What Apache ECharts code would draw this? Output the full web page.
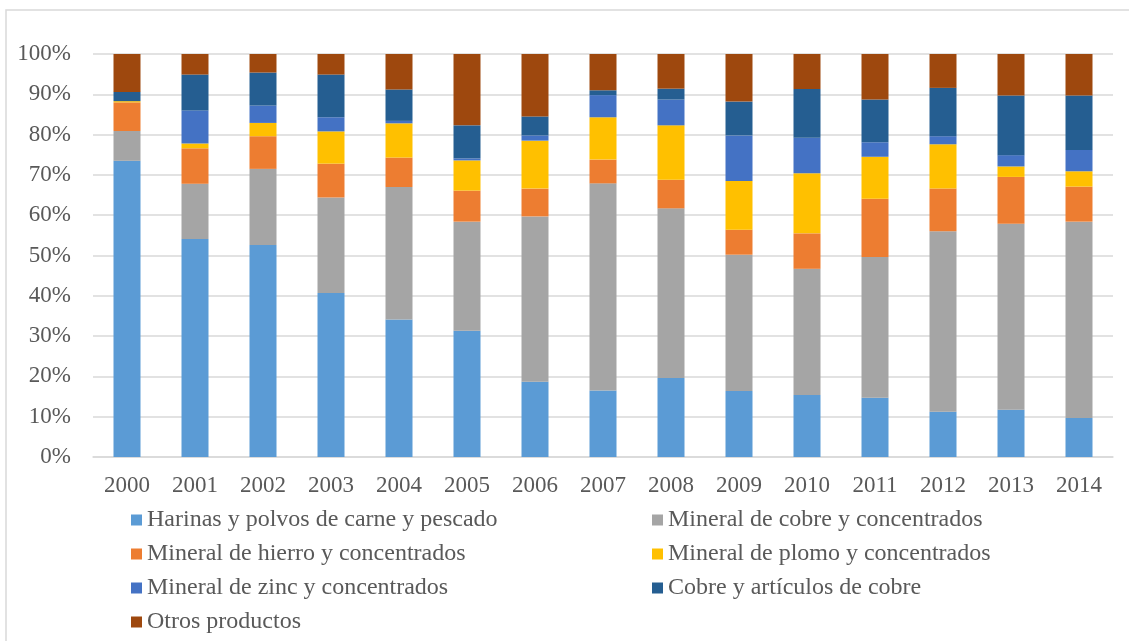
<!DOCTYPE html>
<html>
<head>
<meta charset="utf-8">
<script src="https://cdn.jsdelivr.net/npm/echarts@6/dist/echarts.min.js"></script>
<style>
html,body{margin:0;padding:0;background:#fff;}
#chart{width:1129px;height:641px;}
</style>
</head>
<body>
<div id="chart"></div>
<script>
const years = ['2000','2001','2002','2003','2004','2005','2006','2007','2008','2009','2010','2011','2012','2013','2014'];
const harinas = [73.5,54.1,52.6,40.7,34.1,31.3,18.7,16.5,19.6,16.4,15.4,14.7,11.2,11.7,9.7];
const cobreMineral = [7.4,13.7,18.9,23.7,32.9,27.1,41.0,51.4,42.1,33.8,31.3,34.9,44.8,46.2,48.7];
const hierro = [7.1,8.8,8.1,8.4,7.3,7.7,6.9,5.9,7.1,6.2,8.8,14.5,10.6,11.6,8.7];
const plomo = [0.3,1.2,3.3,8.0,8.5,7.5,11.9,10.5,13.5,12.1,14.9,10.4,11.0,2.6,3.8];
const zinc = [0.0,8.2,4.3,3.5,0.6,0.5,1.3,5.5,6.4,11.3,8.8,3.6,2.0,2.8,5.3];
const cobreArticulos = [2.3,8.9,8.2,10.6,7.8,8.2,4.7,1.2,2.7,8.4,12.1,10.6,12.0,14.8,13.5];
const otros = [9.4,5.1,4.6,5.1,8.8,17.7,15.5,9.0,8.6,11.8,8.7,11.3,8.4,10.3,10.3];
const yTicks = [0,10,20,30,40,50,60,70,80,90,100];

const names = ['Harinas y polvos de carne y pescado','Mineral de cobre y concentrados','Mineral de hierro y concentrados','Mineral de plomo y concentrados','Mineral de zinc y concentrados','Cobre y artículos de cobre','Otros productos'];
const values = [harinas, cobreMineral, hierro, plomo, zinc, cobreArticulos, otros];
const colors = ['#5B9BD5','#A5A5A5','#ED7D31','#FFC000','#4472C4','#255E91','#9E480E'];

const FONT = '"Liberation Serif", "Times New Roman", serif';
const chart = echarts.init(document.getElementById('chart'), null, {renderer:'canvas'});
const legendBase = {
  orient:'vertical', itemWidth:11, itemHeight:11, itemGap:10, icon:'rect',
  textStyle:{fontFamily:FONT, fontSize:24, color:'#595959', lineHeight:24},
  selectedMode:false, top:508, height:200, padding:0
};
chart.setOption({
  animation:false,
  color:colors,
  textStyle:{fontFamily:FONT},
  graphic:[{type:'rect', shape:{x:6,y:10,width:1300,height:800}, style:{fill:'none', stroke:'#d9d9d9', lineWidth:1.5}, silent:true}],
  grid:{left:93, right:16, top:54, bottom:184, containLabel:false},
  legend:[
    Object.assign({}, legendBase, {left:131, data:[names[0],names[2],names[4],names[6]]}),
    Object.assign({}, legendBase, {left:652, data:[names[1],names[3],names[5]]})
  ],
  xAxis:{type:'category', data:years,
    axisLine:{show:true, lineStyle:{color:'#d9d9d9', width:1.5}},
    axisTick:{show:false},
    axisLabel:{fontFamily:FONT, fontSize:23, color:'#595959', margin:17}},
  yAxis:{type:'value', min:0, max:100, interval:10,
    axisLine:{show:false}, axisTick:{show:false},
    splitLine:{lineStyle:{color:'#d9d9d9', width:1.5}},
    axisLabel:{fontFamily:FONT, fontSize:23, color:'#595959', margin:22,
      formatter:v => yTicks.indexOf(v) >= 0 ? v + '%' : ''}},
  series: names.map((n,i) => ({
    name:n, type:'bar', stack:'total', data:values[i], barWidth:27,
    itemStyle:{color:colors[i]}
  }))
});
</script>
</body>
</html>
